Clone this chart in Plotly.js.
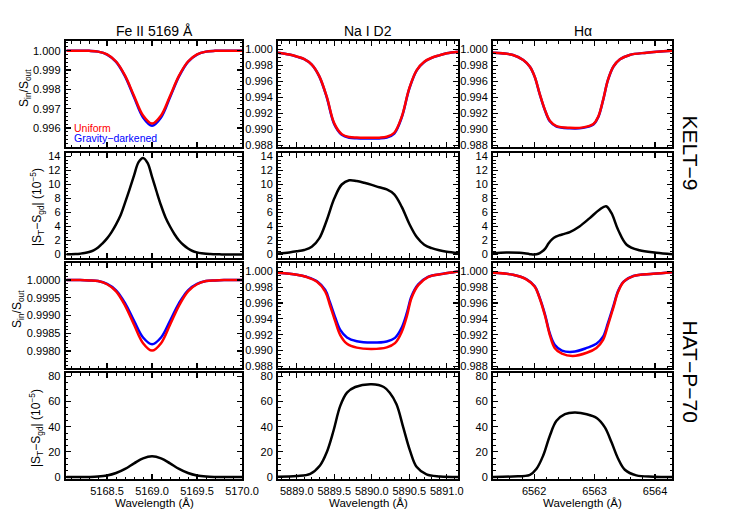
<!DOCTYPE html>
<html><head><meta charset="utf-8">
<script src="https://cdn.plot.ly/plotly-3.0.1.min.js"></script>
<style>html,body{margin:0;padding:0;background:#fff}#chart{width:737px;height:521px}</style>
</head><body><div id="chart"></div>
<script>
// ---------- column titles / labels ----------
const columnTitles = ["Fe II 5169 Å", "Na I D2", "Hα"];
const starNames = ["KELT−9", "HAT−P−70"];

// ---------- Fe II 5169 ----------
const feWave = [5168.05, 5168.2, 5168.3, 5168.4, 5168.5, 5168.6, 5168.7, 5168.8, 5168.9, 5169.0, 5169.1, 5169.2, 5169.3, 5169.4, 5169.5, 5169.6, 5169.7, 5169.8, 5170.0];
const feK9Uniform = [1.00000, 1.00000, 0.99999, 0.99995, 0.99981, 0.99944, 0.99871, 0.99766, 0.99665, 0.99623, 0.99665, 0.99766, 0.99871, 0.99944, 0.99981, 0.99995, 0.99999, 1.00000, 1.00000];
const feK9Grav = [1.00000, 1.00000, 0.99999, 0.99995, 0.99980, 0.99942, 0.99867, 0.99759, 0.99655, 0.99612, 0.99655, 0.99759, 0.99867, 0.99942, 0.99980, 0.99995, 0.99999, 1.00000, 1.00000];
const feK9DiffWave = [5168.05, 5168.10, 5168.15, 5168.20, 5168.25, 5168.30, 5168.35, 5168.40, 5168.45, 5168.50, 5168.55, 5168.60, 5168.65, 5168.70, 5168.75, 5168.80, 5168.85, 5168.90, 5168.95, 5169.00, 5169.05, 5169.10, 5169.15, 5169.20, 5169.25, 5169.30, 5169.35, 5169.40, 5169.45, 5169.50, 5169.55, 5169.60, 5169.65, 5169.70, 5169.75, 5169.80, 5169.85, 5169.90, 5169.95, 5170.00];
const feK9Diff = [0.02, 0.04, 0.07, 0.12, 0.2, 0.35, 0.6, 1.0, 1.6, 2.3, 3.2, 4.3, 5.6, 7.4, 9.3, 11.3, 13.2, 13.8, 13.1, 11.1, 9.0, 7.0, 5.3, 4.0, 2.9, 2.0, 1.35, 0.85, 0.5, 0.3, 0.18, 0.1, 0.06, 0.03, 0.02, 0.01, 0.0, 0.0, 0.0, 0.0];
const feHatUniform = [1.00000, 1.00000, 0.99999, 0.99997, 0.99988, 0.99968, 0.99928, 0.99874, 0.99822, 0.99801, 0.99822, 0.99874, 0.99928, 0.99968, 0.99988, 0.99997, 0.99999, 1.00000, 1.00000];
const feHatGrav = [1.00000, 1.00000, 0.99999, 0.99997, 0.99989, 0.99971, 0.99935, 0.99885, 0.99838, 0.99819, 0.99838, 0.99885, 0.99935, 0.99971, 0.99989, 0.99997, 0.99999, 1.00000, 1.00000];
const feHatDiff = [0.0, 0.02, 0.1, 0.4, 1.25, 3.2, 6.5, 10.9, 14.9, 16.5, 14.9, 10.9, 6.5, 3.2, 1.25, 0.4, 0.1, 0.02, 0.0];

// ---------- Na I D2 ----------
const naWave = [5888.75, 5888.9, 5889.0, 5889.1, 5889.2, 5889.3, 5889.4, 5889.5, 5889.6, 5889.7, 5889.8, 5889.9, 5890.0, 5890.1, 5890.2, 5890.3, 5890.4, 5890.5, 5890.6, 5890.7, 5890.8, 5890.9, 5891.0, 5891.15];
const naK9Uniform = [0.99958, 0.99935, 0.99910, 0.99878, 0.99810, 0.99666, 0.99408, 0.99075, 0.98941, 0.98905, 0.98898, 0.98895, 0.98895, 0.98897, 0.98908, 0.98958, 0.99158, 0.99513, 0.99741, 0.99845, 0.99895, 0.99925, 0.99950, 0.99970];
const naK9Grav = [0.99958, 0.99935, 0.99909, 0.99877, 0.99808, 0.99662, 0.99400, 0.99065, 0.98932, 0.98895, 0.98888, 0.98885, 0.98885, 0.98887, 0.98898, 0.98948, 0.99150, 0.99507, 0.99738, 0.99843, 0.99894, 0.99925, 0.99950, 0.99970];
const naK9Diff = [0.15, 0.3, 0.45, 0.65, 1.1, 2.3, 4.9, 8.0, 10.0, 10.6, 10.5, 10.25, 9.95, 9.6, 9.3, 8.6, 6.8, 4.4, 2.5, 1.4, 0.9, 0.6, 0.4, 0.2];
const naHatWave = [5888.75, 5889.0, 5889.13, 5889.27, 5889.38, 5889.44, 5889.51, 5889.58, 5889.67, 5889.8, 5890.0, 5890.2, 5890.31, 5890.4, 5890.47, 5890.53, 5890.62, 5890.75, 5890.95, 5891.15];
const naHatUniform = [0.99980, 0.99955, 0.99927, 0.99866, 0.99744, 0.99581, 0.99378, 0.99195, 0.99085, 0.99037, 0.99020, 0.99040, 0.99093, 0.99236, 0.99439, 0.99663, 0.99825, 0.99927, 0.99967, 0.99996];
const naHatGrav = [0.99980, 0.99957, 0.99930, 0.99875, 0.99765, 0.99615, 0.99425, 0.99260, 0.99165, 0.99118, 0.99100, 0.99115, 0.99160, 0.99290, 0.99480, 0.99685, 0.99835, 0.99930, 0.99968, 0.99996];
const naHatDiffWave = [5888.75, 5889.0, 5889.18, 5889.31, 5889.4, 5889.49, 5889.58, 5889.67, 5889.78, 5890.0, 5890.16, 5890.24, 5890.33, 5890.42, 5890.51, 5890.6, 5890.73, 5890.91, 5891.15];
const naHatDiff = [0.3, 0.8, 2.6, 9.2, 19.7, 36.8, 56.6, 67.1, 71.6, 73.7, 71.6, 67.1, 57.9, 39.5, 21.0, 7.9, 2.1, 0.5, 0.1];

// ---------- H alpha ----------
const haK9Wave = [6561.31, 6561.65, 6561.82, 6561.93, 6562.01, 6562.09, 6562.18, 6562.26, 6562.37, 6562.59, 6562.81, 6562.98, 6563.06, 6563.14, 6563.22, 6563.31, 6563.42, 6563.58, 6563.86, 6564.28];
const haK9Uniform = [0.99958, 0.99930, 0.99866, 0.99783, 0.99658, 0.99450, 0.99241, 0.99108, 0.99041, 0.99020, 0.99025, 0.99066, 0.99158, 0.99366, 0.99616, 0.99783, 0.99875, 0.99930, 0.99958, 0.99983];
const haK9Grav = [0.99958, 0.99930, 0.99866, 0.99782, 0.99656, 0.99447, 0.99236, 0.99102, 0.99035, 0.99014, 0.99019, 0.99060, 0.99153, 0.99362, 0.99614, 0.99782, 0.99875, 0.99930, 0.99958, 0.99983];
const haK9DiffWave = [6561.31, 6561.54, 6561.76, 6561.93, 6562.0, 6562.07, 6562.12, 6562.18, 6562.24, 6562.30, 6562.36, 6562.42, 6562.50, 6562.59, 6562.75, 6562.92, 6563.08, 6563.19, 6563.28, 6563.39, 6563.53, 6563.74, 6564.02, 6564.28];
const haK9Diff = [0.2, 0.3, 0.25, 0.05, 0.0, 0.1, 0.35, 0.8, 1.6, 2.2, 2.55, 2.75, 2.95, 3.2, 4.0, 5.2, 6.4, 6.9, 5.9, 3.5, 1.4, 0.6, 0.25, 0.05];
const haHatWave = [6561.31, 6561.65, 6561.87, 6562.01, 6562.09, 6562.18, 6562.26, 6562.34, 6562.46, 6562.64, 6562.87, 6563.03, 6563.14, 6563.22, 6563.31, 6563.39, 6563.48, 6563.64, 6563.97, 6564.28];
const haHatUniform = [0.99980, 0.99955, 0.99898, 0.99805, 0.99663, 0.99439, 0.99195, 0.99033, 0.98960, 0.98931, 0.98972, 0.99033, 0.99134, 0.99317, 0.99541, 0.99744, 0.99866, 0.99939, 0.99967, 0.99988];
const haHatGrav = [0.99980, 0.99956, 0.99900, 0.99810, 0.99670, 0.99455, 0.99215, 0.99073, 0.99000, 0.98984, 0.99033, 0.99085, 0.99175, 0.99345, 0.99560, 0.99755, 0.99870, 0.99940, 0.99967, 0.99988];
const haHatDiffWave = [6561.31, 6561.65, 6561.93, 6562.04, 6562.15, 6562.26, 6562.37, 6562.51, 6562.67, 6562.87, 6563.04, 6563.17, 6563.28, 6563.39, 6563.5, 6563.69, 6563.97, 6564.28];
const haHatDiff = [0.1, 0.5, 1.8, 6.6, 17.1, 32.9, 44.7, 50.0, 51.3, 50.0, 46.8, 39.5, 27.6, 14.5, 5.8, 1.3, 0.3, 0.05];

// ---------- layout ----------
const W = 737, H = 521;
const FONT = "Liberation Sans, Arial, Helvetica, sans-serif";
const RED = "#ff0000", BLUE = "#0000ff", BLACK = "#000000";
const px = x => x / W, py = y => 1 - y / H;
const colDom = [[65.7, 242], [278, 458], [493, 672]];
const rowDom = [[41, 147], [153, 258], [263, 368], [373.3, 479.3]];
const xCfg = [
  {range: [5168.04, 5170.0], tick0: 5168.5, dtick: 0.5, minor: 0.1, fmt: ".1f"},
  {range: [5888.75, 5891.15], tick0: 5889.0, dtick: 0.5, minor: 0.1, fmt: ".1f"},
  {range: [6561.32, 6564.28], tick0: 6562, dtick: 1, minor: 0.2, fmt: "d"}
];
const profA = {range: [0.9878, 1.00104], tick0: 0.988, dtick: 0.002, minor: 0.0005, fmt: ".3f"};
const diffK = {range: [-0.5, 14.5], tick0: 0, dtick: 2, minor: 0.5, fmt: "d"};
const diffH = {range: [-1.8, 82.5], tick0: 0, dtick: 20, minor: 5, fmt: "d"};
const yCfg = [
  [{range: [0.99502, 1.0005], tick0: 0.996, dtick: 0.001, minor: 0.0002, fmt: ".3f"}, profA, profA],
  [diffK, diffK, diffK],
  [{range: [0.99752, 1.00048], tick0: 0.998, dtick: 0.0005, minor: 0.0001, fmt: ".4f"}, profA, profA],
  [diffH, diffH, diffH]
];

const layout = {
  width: W, height: H,
  margin: {l: 0, r: 0, t: 0, b: 0},
  paper_bgcolor: "#fff", plot_bgcolor: "#fff",
  showlegend: false,
  font: {family: FONT, size: 11, color: BLACK},
  annotations: []
};

function axisBase(cfg) {
  return {
    range: cfg.range, tickmode: "linear", tick0: cfg.tick0, dtick: cfg.dtick,
    tickformat: cfg.fmt, ticks: "inside", ticklen: 5, tickwidth: 1.2, tickcolor: BLACK,
    minor: {ticks: "inside", ticklen: 2.5, tickwidth: 1, tickcolor: BLACK, dtick: cfg.minor},
    showline: true, linecolor: BLACK, linewidth: 2, mirror: "allticks",
    showgrid: false, zeroline: false, fixedrange: true,
    tickfont: {family: FONT, size: 11, color: BLACK}
  };
}

for (let r = 0; r < 4; r++) {
  for (let c = 0; c < 3; c++) {
    const k = r * 3 + c + 1;
    const xa = axisBase(xCfg[c]);
    xa.domain = [px(colDom[c][0]), px(colDom[c][1])];
    xa.anchor = "y" + k;
    xa.showticklabels = (r === 3);
    xa.ticklabelstandoff = 0;
    const ya = axisBase(yCfg[r][c]);
    ya.domain = [py(rowDom[r][1]), py(rowDom[r][0])];
    ya.anchor = "x" + k;
    ya.ticklabelstandoff = 1;
    layout["xaxis" + k] = xa;
    layout["yaxis" + k] = ya;
  }
}

const traces = [];
function add(r, c, x, y, color) {
  const k = r * 3 + c + 1;
  traces.push({type: "scatter", mode: "lines", x: x, y: y,
    xaxis: "x" + k, yaxis: "y" + k,
    line: {color: color, width: 2.5, shape: "spline", smoothing: 1},
    hoverinfo: "skip", cliponaxis: true});
}
// row 0: KELT-9 profiles
add(0, 0, feWave, feK9Grav, BLUE); add(0, 0, feWave, feK9Uniform, RED);
add(0, 1, naWave, naK9Grav, BLUE); add(0, 1, naWave, naK9Uniform, RED);
add(0, 2, haK9Wave, haK9Grav, BLUE); add(0, 2, haK9Wave, haK9Uniform, RED);
// row 1: KELT-9 differences
add(1, 0, feK9DiffWave, feK9Diff, BLACK);
add(1, 1, naWave, naK9Diff, BLACK);
add(1, 2, haK9DiffWave, haK9Diff, BLACK);
// row 2: HAT-P-70 profiles
add(2, 0, feWave, feHatGrav, BLUE); add(2, 0, feWave, feHatUniform, RED);
add(2, 1, naHatWave, naHatGrav, BLUE); add(2, 1, naHatWave, naHatUniform, RED);
add(2, 2, haHatWave, haHatGrav, BLUE); add(2, 2, haHatWave, haHatUniform, RED);
// row 3: HAT-P-70 differences
add(3, 0, feWave, feHatDiff, BLACK);
add(3, 1, naHatDiffWave, naHatDiff, BLACK);
add(3, 2, haHatDiffWave, haHatDiff, BLACK);

function ann(text, x, y, opts) {
  layout.annotations.push(Object.assign({
    text: text, xref: "paper", yref: "paper", x: px(x), y: py(y),
    xanchor: "center", yanchor: "middle", showarrow: false,
    font: {family: FONT, size: 11, color: BLACK}
  }, opts || {}));
}
const colCenters = [154, 368, 582.5];
columnTitles.forEach((t, i) => ann(t, colCenters[i], 31, {font: {family: FONT, size: 14, color: BLACK}}));
colCenters.forEach(cx => ann("Wavelength (Å)", cx, 503, {font: {family: FONT, size: 11.5, color: BLACK}}));
const ratioTitle = "S<sub>in</sub>/S<sub>out</sub>";
const diffTitle = "|S<sub>T</sub>−S<sub>gd</sub>| (10<sup>−5</sup>)";
ann(ratioTitle, 25, 88, {textangle: -90, font: {family: FONT, size: 12, color: BLACK}});
ann(diffTitle, 37, 207, {textangle: -90, font: {family: FONT, size: 12, color: BLACK}});
ann(ratioTitle, 18, 309, {textangle: -90, font: {family: FONT, size: 12, color: BLACK}});
ann(diffTitle, 36, 428, {textangle: -90, font: {family: FONT, size: 12, color: BLACK}});
ann("Uniform", 71.5, 128, {xanchor: "left", font: {family: FONT, size: 10.5, color: RED}});
ann("Gravity−darkened", 71.5, 137.5, {xanchor: "left", font: {family: FONT, size: 10.5, color: BLUE}});
ann(starNames[0], 690, 152.5, {textangle: 90, font: {family: FONT, size: 21, color: BLACK}});
ann(starNames[1], 690, 371.5, {textangle: 90, font: {family: FONT, size: 21, color: BLACK}});

Plotly.newPlot("chart", traces, layout, {staticPlot: true, displayModeBar: false});
</script>
</body></html>
